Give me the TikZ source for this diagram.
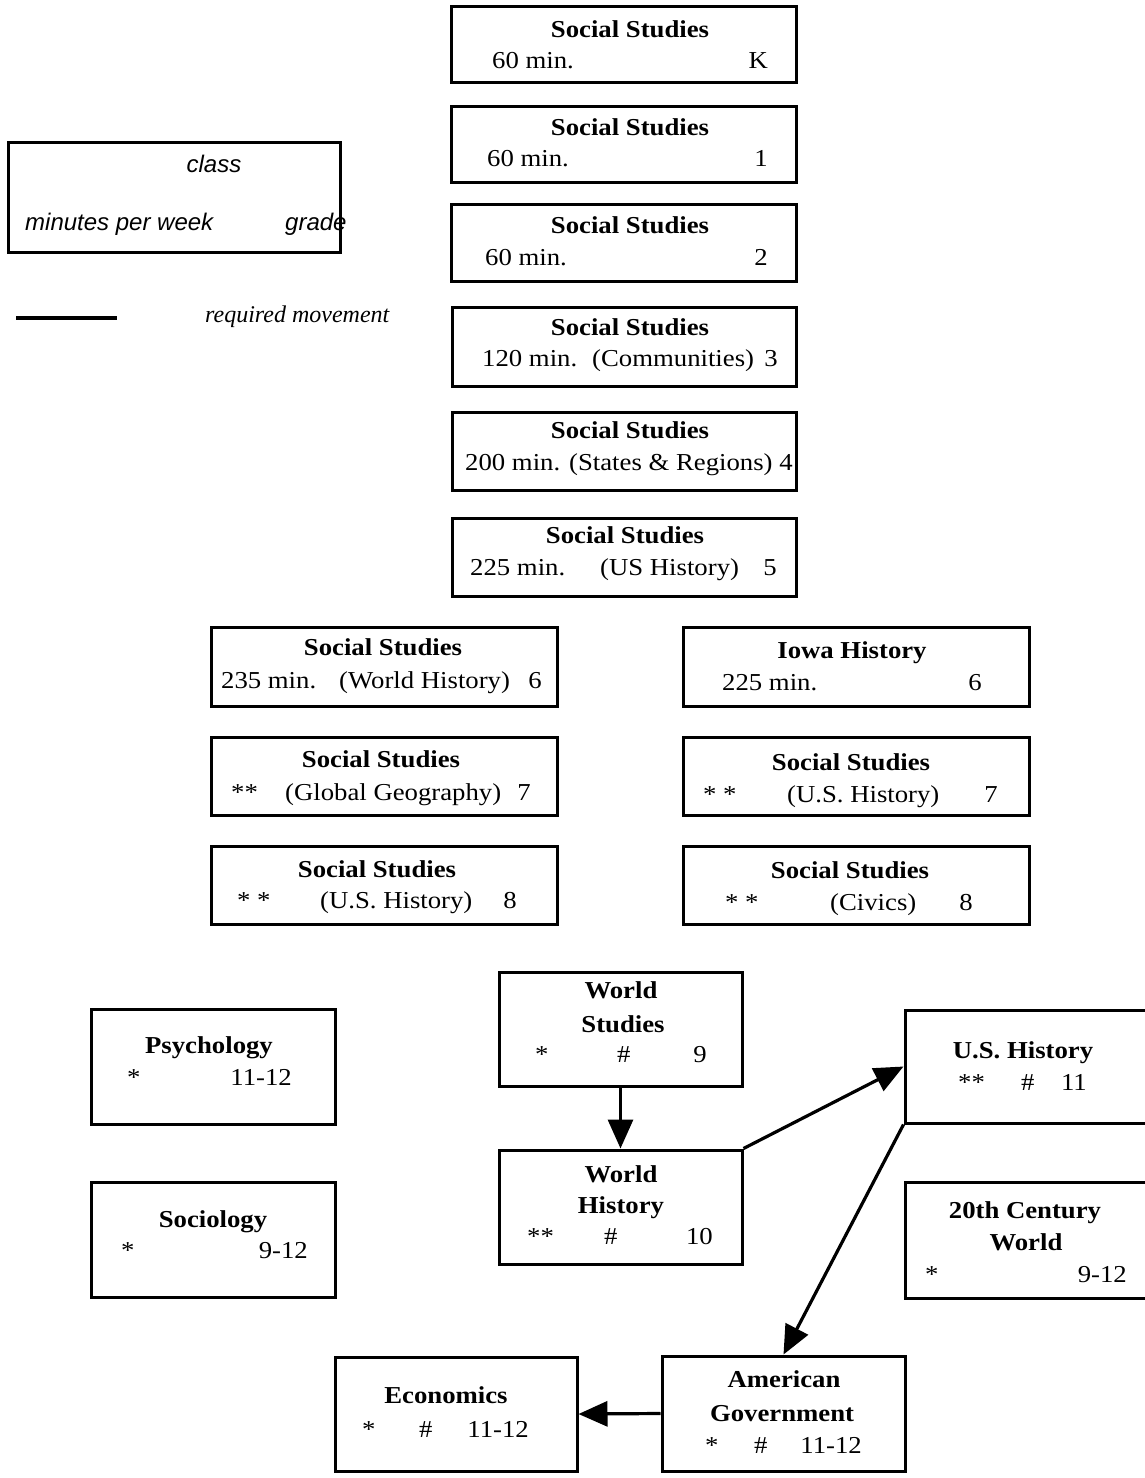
\documentclass[tikz,border=0pt]{standalone}
\usepackage{fontspec}
\setmainfont{Liberation Serif}[FakeStretch=1.1]
\newfontfamily\legsans{Liberation Sans}
\newfontfamily\legserif{Liberation Serif}
\usetikzlibrary{arrows.meta}
\tikzset{
  boxst/.style={draw, line width=3pt, inner sep=0pt, rectangle},
  txt/.style={inner sep=0pt, font=\fontsize{24.3}{29}\selectfont},
  legsanstxt/.style={inner sep=0pt, font=\fontsize{24}{29}\selectfont\legsans\itshape},
  legseriftxt/.style={inner sep=0pt, font=\fontsize{24}{29}\selectfont\legserif\itshape},
  arr/.style={line width=3.2pt, -{Triangle[length=29pt,width=25pt]}},
  legline/.style={line width=3.2pt},
}
\newcommand\mkbox[5]{\node[boxst, minimum width={(#3)-(#2)}, minimum height={(#5)-(#4)}] (#1) at ({((#2)+(#3))/2},{((#4)+(#5))/2}) {};}
\newcommand\txL[4]{\node[txt,anchor=base west] (#1) at (#2,#3) {#4};}
\newcommand\txR[4]{\node[txt,anchor=base east] (#1) at (#2,#3) {#4};}
\newcommand\txC[4]{\node[txt,anchor=base] (#1) at (#2,#3) {\bfseries #4};}
\begin{document}
\begin{tikzpicture}[x=1pt,y=-1pt]
\useasboundingbox (0,0) rectangle (1145,1478);
\clip (0,0) rectangle (1145,1478);

% ---------- legend ----------
\mkbox{leg}{8}{340}{142}{252}
\node[legsanstxt,anchor=base] (legclass) at (214,172) {class};
\node[legsanstxt,anchor=base west] (legmin) at (25,230) {minutes per week};
\node[legsanstxt,anchor=base west] (leggrade) at (285,230) {grade};
\coordinate (lla) at (16,318);
\coordinate (llb) at (117,318);
\draw[legline] (lla) -- (llb);
\node[legseriftxt,anchor=base west] (legreq) at (205,322) {required movement};

% ---------- K - 5 ----------
\mkbox{gk}{451}{796}{6}{82}
\txC{gkA}{630}{37}{Social Studies}
\txL{gkB}{492}{68}{60 min.}
\txR{gkC}{768}{68}{K}

\mkbox{ga}{451}{796}{106}{182}
\txC{gaA}{630}{135}{Social Studies}
\txL{gaB}{487}{166}{60 min.}
\txR{gaC}{768}{166}{1}

\mkbox{gb}{451}{796}{204}{281}
\txC{gbA}{630}{233}{Social Studies}
\txL{gbB}{485}{265}{60 min.}
\txR{gbC}{768}{265}{2}

\mkbox{gc}{452}{796}{307}{386}
\txC{gcA}{630}{335}{Social Studies}
\txL{gcB}{482}{366}{120 min.}
\txL{gcC}{592}{366}{(Communities)}
\txR{gcD}{778}{366}{3}

\mkbox{gd}{452}{796}{412}{490}
\txC{gdA}{630}{438}{Social Studies}
\txL{gdB}{465}{470}{200 min. (States \& Regions) 4}

\mkbox{ge}{452}{796}{518}{596}
\txC{geA}{625}{543}{Social Studies}
\txL{geB}{470}{575}{225 min.}
\txL{geC}{600}{575}{(US History)}
\txR{geD}{777}{575}{5}

% ---------- 6 - 8 ----------
\mkbox{lf}{211}{557}{627}{706}
\txC{lfA}{383}{655}{Social Studies}
\txL{lfB}{221}{688}{235 min.}
\txL{lfC}{339}{688}{(World History)}
\txR{lfD}{542}{688}{6}

\mkbox{rf}{683}{1029}{627}{706}
\txC{rfA}{852}{658}{Iowa History}
\txL{rfB}{722}{690}{225 min.}
\txR{rfC}{982}{690}{6}

\mkbox{ls}{211}{557}{737}{815}
\txC{lsA}{381}{767}{Social Studies}
\txL{lsB}{231}{800}{**}
\txL{lsC}{285}{800}{(Global Geography)}
\txR{lsD}{531}{800}{7}

\mkbox{rs}{683}{1029}{737}{815}
\txC{rsA}{851}{770}{Social Studies}
\txL{rsB}{703}{802}{* *}
\txL{rsC}{787}{802}{(U.S. History)}
\txR{rsD}{998}{802}{7}

\mkbox{le}{211}{557}{846}{924}
\txC{leA}{377}{877}{Social Studies}
\txL{leB}{237}{908}{* *}
\txL{leC}{320}{908}{(U.S. History)}
\txR{leD}{517}{908}{8}

\mkbox{re}{683}{1029}{846}{924}
\txC{reA}{850}{878}{Social Studies}
\txL{reB}{725}{910}{* *}
\txL{reC}{830}{910}{(Civics)}
\txR{reD}{973}{910}{8}

% ---------- high school ----------
\mkbox{psy}{91}{335}{1009}{1124}
\txC{psyA}{209}{1053}{Psychology}
\txL{psyB}{127}{1085}{*}
\txR{psyC}{292}{1085}{11-12}

\mkbox{soc}{91}{335}{1182}{1297}
\txC{socA}{213}{1227}{Sociology}
\txL{socB}{121}{1258}{*}
\txR{socC}{308}{1258}{9-12}

\mkbox{ws}{499}{742}{972}{1086}
\txC{wsA}{621}{998}{World}
\txC{wsB}{623}{1032}{Studies}
\txL{wsC}{535}{1062}{*}
\txL{wsD}{617}{1062}{\#}
\txR{wsE}{707}{1062}{9}

\mkbox{wh}{499}{742}{1150}{1264}
\txC{whA}{621}{1182}{World}
\txC{whB}{621}{1213}{History}
\txL{whC}{527}{1244}{**}
\txL{whD}{604}{1244}{\#}
\txR{whE}{713}{1244}{10}

\mkbox{us}{905}{1150}{1010}{1123}
\txC{usA}{1023}{1058}{U.S. History}
\txL{usB}{958}{1090}{**}
\txL{usC}{1021}{1090}{\#}
\txR{usD}{1087}{1090}{11}

\mkbox{cw}{905}{1150}{1182}{1298}
\txC{cwA}{1025}{1218}{20th Century}
\txC{cwB}{1026}{1250}{World}
\txL{cwC}{925}{1282}{*}
\txR{cwD}{1127}{1282}{9-12}

\mkbox{ag}{662}{905}{1356}{1471}
\txC{agA}{784}{1387}{American}
\txC{agB}{782}{1421}{Government}
\txL{agC}{705}{1453}{*}
\txL{agD}{754}{1453}{\#}
\txR{agE}{862}{1453}{11-12}

\mkbox{eco}{335}{577}{1357}{1471}
\txC{ecoA}{446}{1403}{Economics}
\txL{ecoB}{362}{1437}{*}
\txL{ecoC}{419}{1437}{\#}
\txR{ecoD}{529}{1437}{11-12}

% ---------- arrows ----------
\draw[arr] (ws.south) -- (wh.north);
\draw[arr] (wh.north east) -- (us.west);
\draw[arr] (us.south west) -- (ag.north);
\draw[arr] (ag.west) -- (eco.east);
\end{tikzpicture}
\end{document}
